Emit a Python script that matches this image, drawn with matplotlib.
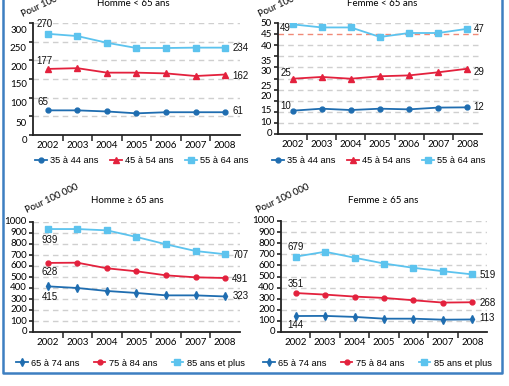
import matplotlib.pyplot as plt
from matplotlib.lines import Line2D
import matplotlib.transforms as mtransforms

years = ['2002', '2003', '2004', '2005', '2006', '2007', '2008']

# Homme < 65 ans
hm_35_44 = [66, 66, 63, 58, 61, 61, 61]
hm_45_54 = [177, 179, 167, 167, 165, 158, 162]
hm_55_64 = [271, 265, 247, 233, 233, 234, 234]

# Femme < 65 ans
fm_35_44 = [10.5, 11.4, 10.8, 11.4, 11.1, 11.9, 12.0]
fm_45_54 = [24.9, 25.7, 24.9, 26.0, 26.4, 27.8, 29.4]
fm_55_64 = [49.4, 48.0, 48.0, 43.7, 45.5, 45.5, 47.4]

# Homme >= 65 ans
ho_65_74 = [415, 400, 373, 355, 333, 333, 323]
ho_75_84 = [628, 630, 579, 552, 515, 497, 491]
ho_85 = [936, 936, 924, 864, 797, 736, 707]

# Femme >= 65 ans
fo_65_74 = [144, 145, 136, 120, 120, 111, 113]
fo_75_84 = [351, 337, 319, 307, 286, 265, 268]
fo_85 = [679, 723, 669, 617, 578, 548, 519]

young = ['35 à 44 ans', '45 à 54 ans', '55 à 64 ans']
old = ['65 à 74 ans', '75 à 84 ans', '85 ans et plus']

DARK = '#1f6db0'
RED = '#e3213d'
LIGHT = '#5cc3ee'
GRID = '#cfcfcf'
AXFONT = 'Lato'

W, H = 509, 386
fig = plt.figure(figsize=(W / 100, H / 100), dpi=100)


def px_axes(l, r, t, b):
    return fig.add_axes([l / W, 1 - b / H, (r - l) / W, (b - t) / H])


def setup(ax, ymax, grid_vals, label_vals, label_pos, red_line=None):
    ax.set_xlim(-0.5, 6.5)
    ax.set_ylim(0, ymax)
    for s in ['top', 'right']:
        ax.spines[s].set_visible(False)
    for s in ['left', 'bottom']:
        ax.spines[s].set_color('#222222')
        ax.spines[s].set_linewidth(1.3)
    for g in grid_vals:
        if g == 0:
            continue
        c = '#f08a78' if g == red_line else GRID
        ax.axhline(g, color=c, lw=1, ls=(0, (4, 3)), zorder=0)
    ax.set_yticks(grid_vals)
    ax.set_yticklabels([])
    ax.tick_params(axis='y', length=3, width=1.2, color='#222222')
    # tick labels drawn as text, they sit a little off the ticks in the source
    tr = mtransforms.blended_transform_factory(ax.transAxes, ax.transData)
    for v, p in zip(label_vals, label_pos):
        ax.text(-0.03, p, v, transform=tr, ha='right', va='center',
                fontsize=7, family=AXFONT, clip_on=False)
    ax.set_xticks([i + 0.5 for i in range(6)])
    ax.set_xticklabels([])
    ax.tick_params(axis='x', which='major', length=4, width=1.1, direction='out', color='#222222')
    ax.set_xticks(list(range(len(years))), minor=True)
    ax.set_xticklabels(years, minor=True, family=AXFONT, fontsize=7)
    ax.tick_params(axis='x', which='minor', length=0, pad=4)


def lab(ax, i, v, txt, dx, dy, ha='center'):
    ax.annotate(txt, (i, v), xytext=(dx, dy), textcoords='offset pixels',
                ha=ha, va='center', fontsize=7, family='Liberation Sans', color='#111111')


def legend(ax, handles, names, x, y, colsp):
    ax.legend(handles, names, loc='center left', bbox_to_anchor=(x / W, 1 - y / H),
              bbox_transform=fig.transFigure, ncol=3, frameon=False,
              handlelength=1.25, handletextpad=0.4, columnspacing=colsp,
              prop={'family': 'Liberation Sans', 'size': 6.7}, borderpad=0, borderaxespad=0)


def head(x, y, title, px, py):
    fig.text(x / W, 1 - y / H, title, ha='center', va='center', fontsize=7, family=AXFONT)
    fig.text(px / W, 1 - py / H, 'Pour 100 000', ha='center', va='center',
             fontsize=6.8, family=AXFONT, rotation=25)


xs = list(range(len(years)))

# --- Homme < 65 ans
ax1 = px_axes(33, 240, 23, 135)
setup(ax1, 300, list(range(0, 301, 50)), ['0', '50', '100', '150', '200', '250', '300'],
      [-14, 32, 84, 134, 182, 232, 280])
a = ax1.plot(xs, hm_35_44, color=DARK, marker='o', ms=3.5, lw=1.3)[0]
b = ax1.plot(xs, hm_45_54, color=RED, marker='^', ms=4.5, lw=1.3)[0]
c = ax1.plot(xs, hm_55_64, color=LIGHT, marker='s', ms=4.5, lw=1.3)[0]
lab(ax1, 0, hm_55_64[0], '270', -3, 10)
lab(ax1, 0, hm_45_54[0], '177', -3, 8)
lab(ax1, 0, hm_35_44[0], '65', -5, 8)
lab(ax1, 6, hm_55_64[6], '234', 7, 0, 'left')
lab(ax1, 6, hm_45_54[6], '162', 7, -1, 'left')
lab(ax1, 6, hm_35_44[6], '61', 7, 1, 'left')
legend(ax1, [a, b, c], young, 35, 161, 1.2)
head(133, 3, 'Homme < 65 ans', 48, 3)

# --- Femme < 65 ans
ax2 = px_axes(278, 482, 23, 134)
setup(ax2, 50, list(range(0, 51, 5)),
      ['0', '10', '15', '20', '25', '30', '35', '40', '45', '50'],
      [0, 5.4, 10.5, 16.7, 21.2, 28.2, 32.7, 39.5, 45, 50], red_line=45)
a = ax2.plot(xs, fm_35_44, color=DARK, marker='o', ms=3.5, lw=1.3)[0]
b = ax2.plot(xs, fm_45_54, color=RED, marker='^', ms=4.5, lw=1.3)[0]
c = ax2.plot(xs, fm_55_64, color=LIGHT, marker='s', ms=4.5, lw=1.3)[0]
lab(ax2, 0, fm_55_64[0], '49', -7, -4)
lab(ax2, 0, fm_45_54[0], '25', -7, 6)
lab(ax2, 0, fm_35_44[0], '10', -7, 5)
lab(ax2, 6, fm_55_64[6], '47', 6, 0, 'left')
lab(ax2, 6, fm_45_54[6], '29', 6, -3, 'left')
lab(ax2, 6, fm_35_44[6], '12', 6, 0, 'left')
legend(ax2, [a, b, c], young, 272, 161, 1.2)
head(382, 3, 'Femme < 65 ans', 285, 3)

# --- Homme >= 65 ans
ax3 = px_axes(33, 240, 222, 332)
ticks = list(range(0, 1001, 100))
setup(ax3, 1000, ticks, [str(t) for t in ticks], ticks)
a = ax3.plot(xs, ho_65_74, color=DARK, marker='d', ms=4, lw=1.3)[0]
b = ax3.plot(xs, ho_75_84, color=RED, marker='o', ms=3.5, lw=1.3)[0]
c = ax3.plot(xs, ho_85, color=LIGHT, marker='s', ms=4.5, lw=1.3)[0]
lab(ax3, 0, ho_85[0], '939', 2, -11)
lab(ax3, 0, ho_75_84[0], '628', 2, -9)
lab(ax3, 0, ho_65_74[0], '415', 2, -11)
lab(ax3, 6, ho_85[6], '707', 7, -1, 'left')
lab(ax3, 6, ho_75_84[6], '491', 7, -1, 'left')
lab(ax3, 6, ho_65_74[6], '323', 7, 0, 'left')
legend(ax3, [a, b, c], old, 16, 363, 1.5)
head(127, 201, 'Homme ≥ 65 ans', 52, 199)

# --- Femme >= 65 ans
ax4 = px_axes(281, 487, 221, 332)
setup(ax4, 1000, ticks, [str(t) for t in ticks], ticks)
a = ax4.plot(xs, fo_65_74, color=DARK, marker='d', ms=4, lw=1.3)[0]
b = ax4.plot(xs, fo_75_84, color=RED, marker='o', ms=3.5, lw=1.3)[0]
c = ax4.plot(xs, fo_85, color=LIGHT, marker='s', ms=4.5, lw=1.3)[0]
lab(ax4, 0, fo_85[0], '679', 0, 10)
lab(ax4, 0, fo_75_84[0], '351', 0, 9)
lab(ax4, 0, fo_65_74[0], '144', 0, -9)
lab(ax4, 6, fo_85[6], '519', 7, -1, 'left')
lab(ax4, 6, fo_75_84[6], '268', 7, -1, 'left')
lab(ax4, 6, fo_65_74[6], '113', 7, 1, 'left')
legend(ax4, [a, b, c], old, 263, 363, 1.5)
head(383, 201, 'Femme ≥ 65 ans', 283, 199)

# blue frame
BORDER = '#3d7fc1'
fig.add_artist(Line2D([3 / W, 3 / W, 502 / W, 502 / W], [1, 1 - 373 / H, 1 - 373 / H, 1],
                      transform=fig.transFigure, color=BORDER, lw=1.8))

fig.savefig('out.png', dpi=100)
